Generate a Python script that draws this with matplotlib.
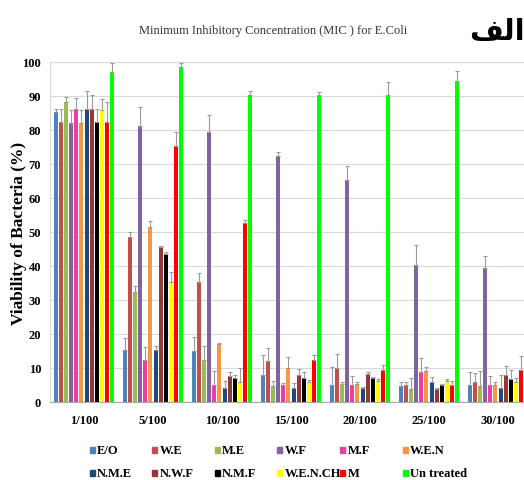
import numpy as np
import matplotlib.pyplot as plt

# concentrations on the x axis and the treatments in the legend
concentrations = ["1/100", "5/100", "10/100", "15/100", "20/100", "25/100", "30/100"]
labels = ["E/O", "W.E", "M.E", "W.F", "M.F", "W.E.N",
          "N.M.E", "N.W.F", "N.M.F", "W.E.N.CH", "M", "Un treated"]
colors = ["#4F81BD", "#C0504D", "#9BBB59", "#8064A2", "#F03C9F", "#F79646",
          "#1F497D", "#953735", "#000000", "#FFFF00", "#FF0000", "#00FF00"]

# viability (%) and upper error for each treatment
eo = [85.2, 15.4, 15.1, 8.0, 5.0, 4.8, 5.0]
eo_err = [1.0, 3.4, 4.0, 5.8, 5.3, 1.2, 3.7]
we = [82.3, 48.6, 35.4, 12.0, 9.9, 5.0, 6.0]
we_err = [4.0, 1.3, 2.5, 4.0, 4.2, 0.8, 2.4]
me = [88.3, 32.3, 12.4, 4.8, 5.3, 3.8, 4.8]
me_err = [1.5, 1.8, 4.0, 1.5, 0.5, 3.4, 4.4]
wf = [82.0, 81.3, 79.3, 72.3, 65.3, 40.4, 39.3]
wf_err = [4.0, 5.6, 5.0, 1.2, 4.0, 5.8, 3.7]
mf = [86.2, 12.4, 5.0, 5.0, 5.0, 8.9, 5.0]
mf_err = [3.3, 3.9, 4.2, 0.5, 2.7, 3.9, 2.6]
wen = [82.0, 51.6, 17.0, 10.0, 5.3, 9.0, 5.0]
wen_err = [4.0, 1.5, 0.5, 3.3, 0.5, 1.4, 0.8]
nme = [86.2, 15.3, 4.0, 4.0, 4.0, 6.0, 4.0]
nme_err = [5.3, 1.3, 2.3, 1.6, 0.5, 1.4, 4.0]
nwf = [86.2, 45.5, 7.7, 7.9, 8.2, 3.8, 8.0]
nwf_err = [4.1, 0.5, 1.2, 1.8, 0.5, 0.3, 2.7]
nmf = [82.3, 43.5, 7.0, 7.0, 7.0, 5.0, 6.8]
nmf_err = [3.9, 0.5, 1.0, 1.7, 0.5, 0.3, 2.7]
wench = [86.0, 35.2, 6.0, 6.0, 6.3, 6.3, 6.0]
wench_err = [3.1, 2.9, 4.0, 0.5, 0.5, 0.5, 1.0]
m = [82.3, 75.4, 52.6, 12.4, 9.5, 5.0, 9.4]
m_err = [5.9, 4.1, 1.0, 1.3, 1.4, 1.3, 4.0]
untreated = [97.1, 98.4, 90.3, 90.3, 90.3, 94.5, 90.3]
untreated_err = [2.6, 1.3, 1.1, 1.0, 3.7, 2.9, 1.0]

series = [eo, we, me, wf, mf, wen, nme, nwf, nmf, wench, m, untreated]
errors = [eo_err, we_err, me_err, wf_err, mf_err, wen_err,
          nme_err, nwf_err, nmf_err, wench_err, m_err, untreated_err]

serif = "Liberation Serif"

fig = plt.figure(figsize=(5.24, 4.81), dpi=100)
# the original picture is cropped on the right, so the axes run past the edge
ax = fig.add_axes([49.5 / 524, 78 / 481, 483 / 524, 340 / 481])

x = np.arange(len(concentrations))
slot = 0.88 / len(series)
for i, (vals, err) in enumerate(zip(series, errors)):
    pos = x + (i - (len(series) - 1) / 2) * slot
    ax.bar(pos, vals, width=slot * 0.8, color=colors[i], zorder=3,
           yerr=[np.zeros(len(err)), err], ecolor="#9A9A9A",
           error_kw=dict(elinewidth=0.8, capsize=1.3, capthick=0.8))

ax.set_xlim(-0.5, len(concentrations) - 0.5)
ax.set_ylim(0, 100)
ax.set_yticks(np.arange(0, 101, 10))
ax.set_xticks(x)
ax.set_xticklabels(concentrations)
ax.grid(axis="y", color="#D9D9D9", linewidth=0.8, zorder=0)
for s in ["top", "right"]:
    ax.spines[s].set_visible(False)
ax.spines["left"].set_color("#D9D9D9")
ax.spines["bottom"].set_color("#A6A6A6")
ax.tick_params(axis="both", length=0)
ax.tick_params(axis="x", pad=9)
ax.tick_params(axis="y", pad=6)
for t in ax.get_xticklabels() + ax.get_yticklabels():
    t.set_fontfamily(serif)
    t.set_fontweight("bold")
    t.set_fontsize(9)

ax.set_ylabel("Viability of Bacteria (%)", fontfamily=serif, fontweight="bold",
              fontsize=12.5)
ax.yaxis.set_label_coords(-22 / 483, 0.5)

fig.text(273 / 524, 1 - 31 / 481,
         "Minimum Inhibitory Concentration (MIC ) for E.Coli",
         ha="center", va="center", fontfamily=serif, fontsize=9, color="#333333")
# Arabic "الف" written with its joined letter forms, in visual order
fig.text(497 / 524, 1 - 32 / 481, "\uFED2\uFEDF\uFE8D", ha="center", va="center",
         fontsize=21, fontweight="bold", family=["DejaVu Sans"])

# legend laid out in two rows of six, like the original
for i, (lab, c) in enumerate(zip(labels, colors)):
    col, row = i % 6, i // 6
    lx = (92 + col * 62.6) / 524
    ly = 1 - (451 + row * 23) / 481
    fig.patches.append(plt.Rectangle((lx - 2.5 / 524, ly - 3 / 481), 5 / 524, 6 / 481,
                                     transform=fig.transFigure, color=c, figure=fig))
    fig.text(lx + 5 / 524, ly, lab, ha="left", va="center", fontfamily=serif,
             fontweight="bold", fontsize=9)

fig.savefig("out.png", dpi=100)
